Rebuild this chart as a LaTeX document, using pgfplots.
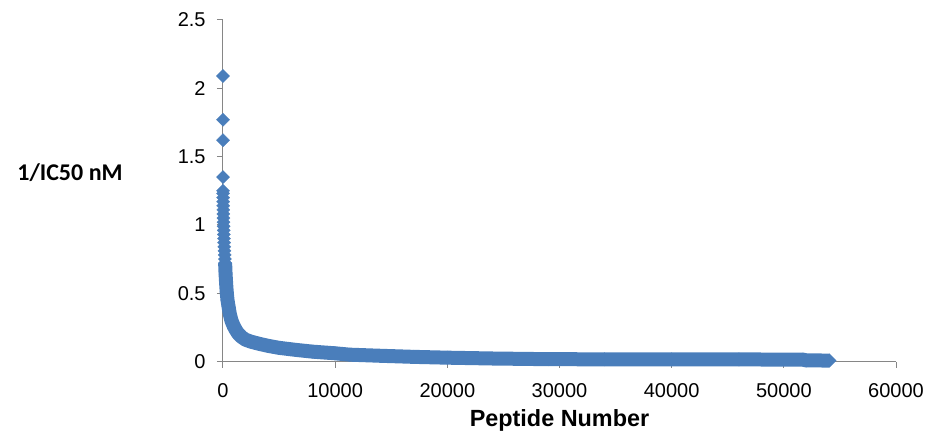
\documentclass[border=0pt]{standalone}
\usepackage{fontspec}
\setmainfont{Liberation Sans}
\newfontfamily\calibri{Carlito}
\usepackage{pgfplots}
\pgfplotsset{compat=1.18}
\definecolor{mk}{RGB}{74,126,187}
\definecolor{axgray}{RGB}{134,134,134}
\begin{document}
\begin{tikzpicture}
\begin{axis}[
  scale only axis, width=336.5pt, height=170.75pt,
  xmin=0, xmax=60000, ymin=0, ymax=2.5,
  axis lines*=left,
  axis line style={axgray, line width=0.5pt},
  tick style={axgray, line width=0.5pt},
  major tick length=3pt, tick align=outside,
  xtick={0,10000,20000,30000,40000,50000,60000},
  ytick={0,0.5,1,1.5,2,2.5},
  scaled x ticks=false,
  /pgf/number format/assume math mode=true,
  /pgf/number format/1000 sep={},
  /pgf/number format/fixed,
  ticklabel style={font=\fontsize{10}{12}\selectfont, text=black, inner sep=0pt},
  xticklabel style={anchor=north, yshift=-8pt},
  yticklabel style={anchor=east, xshift=-5.5pt},
  every axis x label/.style={at={(axis description cs:0.5,0)}, anchor=base, yshift=-32.25pt, font=\fontsize{11.7}{14}\selectfont\bfseries},
  every axis y label/.style={at={(axis description cs:0,0)}, anchor=center, xshift=-76.5pt, yshift=94.25pt, font=\calibri\fontsize{12}{14}\selectfont\bfseries},
  xlabel={Peptide Number},
  ylabel={1/IC50 nM},
  clip=false,
]
\coordinate (bl) at (rel axis cs:0,0);
% isolated top values and stacked points near rank 0
\addplot[mk, only marks, mark=square*, mark size=2.35pt, mark options={rotate=45, solid, line width=0.1pt, draw=mk, fill=mk}] coordinates {
(1,2.09) (2,1.77) (3,1.62) (4,1.35)
(5,1.25) (8,1.23) (12,1.20) (16,1.17) (20,1.14) (26,1.11) (32,1.08) (40,1.05)
(48,1.02) (56,0.99) (66,0.96) (76,0.93) (88,0.90) (100,0.87) (115,0.84) (130,0.81)
(150,0.78) (170,0.75) (190,0.72)
};
% dense band of ranked values
\addplot[mk, line width=7pt, line join=round, mark=square*, mark size=2.4pt, mark options={rotate=45, solid, line width=0.1pt, draw=mk, fill=mk}] coordinates {
(190,0.72) (230,0.64) (280,0.57) (330,0.51) (400,0.45) (500,0.40) (600,0.35)
(750,0.30) (950,0.26) (1150,0.23) (1350,0.205) (1650,0.18) (2000,0.16)
(2500,0.145) (3200,0.13) (4000,0.115) (5000,0.10) (6500,0.085) (8000,0.072)
(10000,0.06) (11300,0.05) (14000,0.042) (17000,0.034) (20000,0.028)
(24000,0.022) (29000,0.017) (34000,0.016) (40000,0.015) (46000,0.015)
(51700,0.014) (52000,0.008) (54070,0.007)
};
\end{axis}
\pgfresetboundingbox
\useasboundingbox ([shift={(-111.5pt,-35.75pt)}]bl) rectangle ++(464.5pt,216.5pt);
\end{tikzpicture}
\end{document}
